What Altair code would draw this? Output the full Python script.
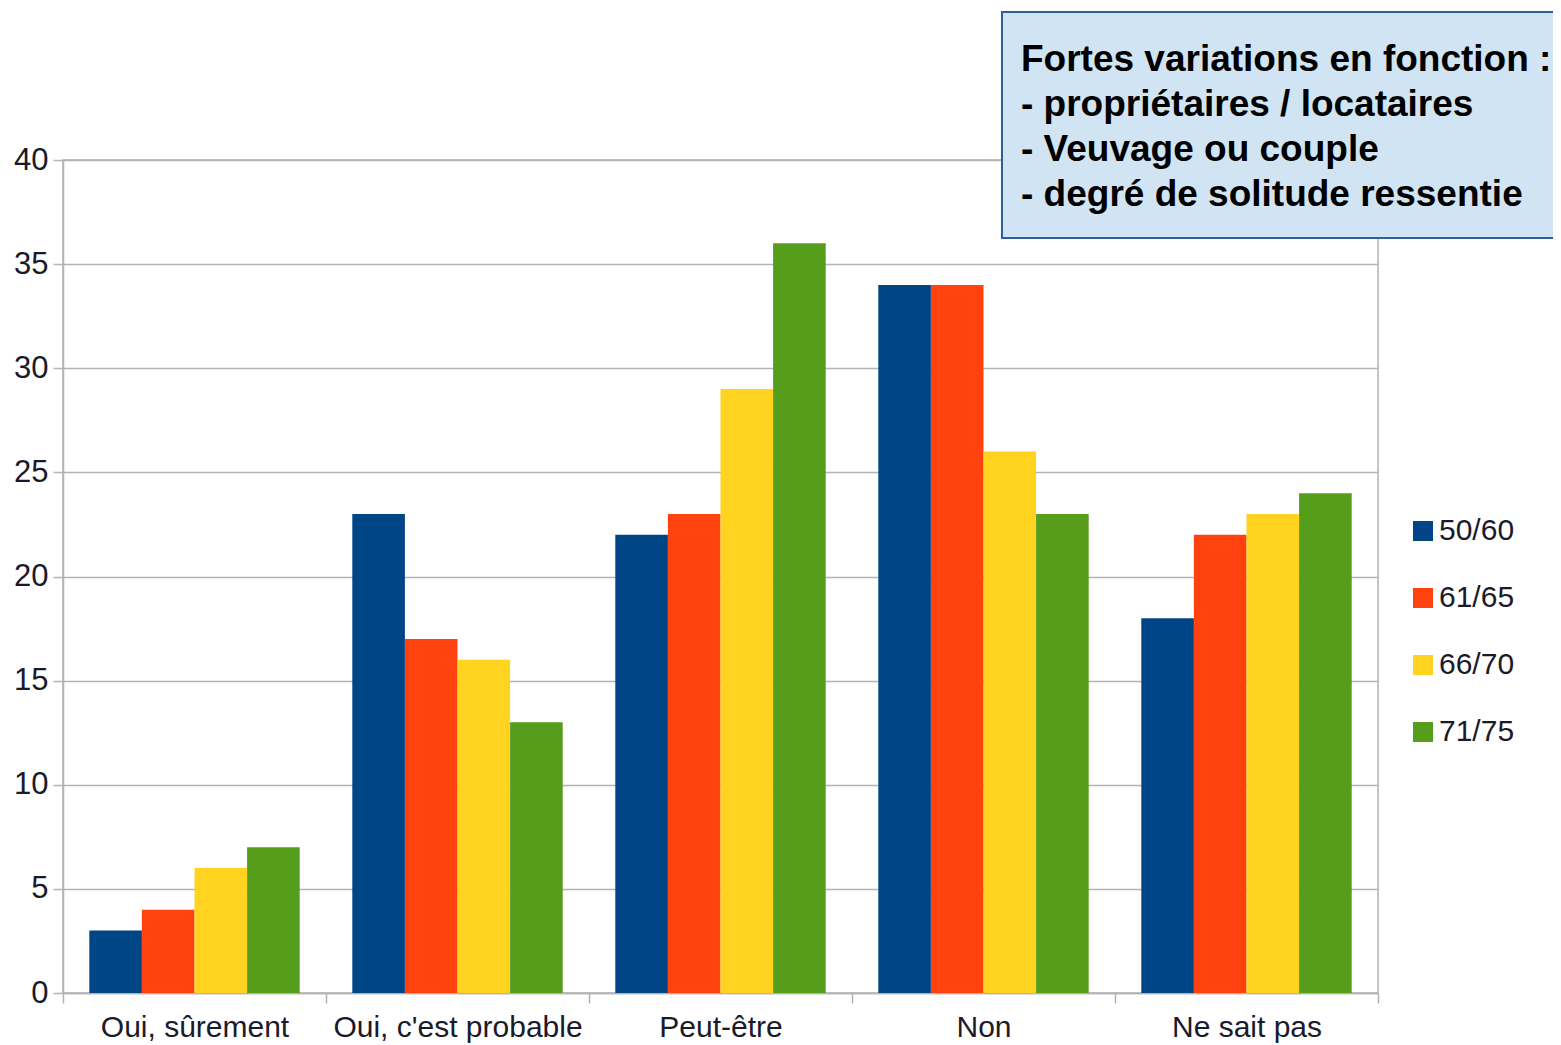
import altair as alt
import pandas as pd

categories = ["Oui, sûrement", "Oui, c'est probable", "Peut-être", "Non", "Ne sait pas"]
series = ["50/60", "61/65", "66/70", "71/75"]
values_5060 = [3, 23, 22, 34, 18]
values_6165 = [4, 17, 23, 34, 22]
values_6670 = [6, 16, 29, 26, 23]
values_7175 = [7, 13, 36, 23, 24]
colors = ["#004586", "#ff420e", "#ffd320", "#579d1c"]
note_lines = [
    "Fortes variations en fonction :",
    "- propriétaires / locataires",
    "- Veuvage ou couple",
    "- degré de solitude ressentie",
]

rows = []
for s, vals in zip(series, [values_5060, values_6165, values_6670, values_7175]):
    for c, v in zip(categories, vals):
        rows.append({"cat": c, "serie": s, "val": v})
df = pd.DataFrame(rows)

FONT = "Liberation Sans"
GRID = "#b3b3b3"
LBL = "#1a1a2a"

bars = alt.Chart(df).mark_bar().encode(
    x=alt.X("cat:N", sort=categories, title=None,
            scale=alt.Scale(paddingInner=0, paddingOuter=0),
            axis=alt.Axis(labelAngle=0, labelFontSize=30, labelFont=FONT,
                          labelColor=LBL, tickBand="extent", tickSize=10,
                          tickColor=GRID, domainColor=GRID, labelPadding=9,
                          labelLimit=0, grid=False)),
    xOffset=alt.XOffset("serie:N", sort=series,
                        scale=alt.Scale(paddingInner=0, paddingOuter=0.5)),
    y=alt.Y("val:Q", title=None,
            scale=alt.Scale(domain=[0, 40], nice=False),
            axis=alt.Axis(values=list(range(0, 41, 5)), labelFontSize=31, labelFont=FONT,
                          labelColor=LBL, tickSize=10, tickColor=GRID,
                          domainColor=GRID, gridColor=GRID, labelPadding=5)),
    color=alt.Color("serie:N", sort=series,
                    scale=alt.Scale(domain=series, range=colors),
                    legend=alt.Legend(title=None, orient="none", legendX=1345, legendY=356,
                                      symbolType="square", symbolSize=400,
                                      symbolStrokeWidth=0, labelFontSize=30,
                                      labelFont=FONT, labelColor=LBL,
                                      rowPadding=37, labelOffset=1, padding=0)),
)

box = alt.Chart(alt.Data(values=[{}])).mark_rect(
    fill="#d0e4f3", stroke="#2e5f97", strokeWidth=2
).encode(
    x=alt.value(939), x2=alt.value(1510), y=alt.value(-148), y2=alt.value(78)
)

note = alt.Chart(alt.Data(values=[{}])).mark_text(
    text=note_lines, align="left", baseline="middle", font=FONT, fontWeight="bold",
    fontSize=37, lineHeight=45, color="#000000"
).encode(x=alt.value(958), y=alt.value(-100))

chart = alt.layer(bars, box, note).properties(
    width=1315, height=833,
    autosize=alt.AutoSizeParams(type="none"),
    padding={"left": 55, "top": 152, "right": 175, "bottom": 52},
).configure_view(stroke=GRID, strokeWidth=1.5).configure_axis(gridWidth=1.5, domainWidth=1.5, tickWidth=1.5)

chart.save("out.html", embed_options={"renderer": "svg", "actions": False})
